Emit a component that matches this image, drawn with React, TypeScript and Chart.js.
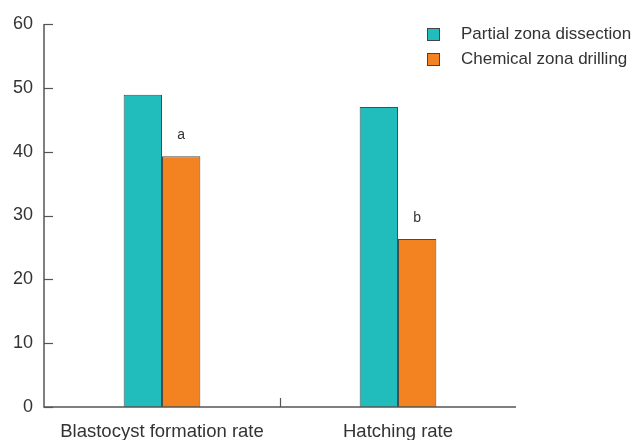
import React, { useEffect, useRef } from "react";
import { Chart, registerables } from "chart.js";

Chart.register(...registerables);

const categories = ["Blastocyst formation rate", "Hatching rate"];
const seriesNames = ["Partial zona dissection", "Chemical zona drilling"];
const partialValues = [48.9, 47.0];
const chemicalValues = [39.3, 26.3];
const chemicalMarks = ["a", "b"];
const yTicks = [0, 10, 20, 30, 40, 50, 60];

const TEAL = "#21bdbc";
const ORANGE = "#f38321";
const AXIS = "#555555";
const FONT = "'Liberation Sans', Arial, sans-serif";

const decorPlugin = {
  id: "decor",
  afterDraw(chart: any) {
    const ctx = chart.ctx;
    const x = chart.scales.x;
    const y = chart.scales.y;
    const area = chart.chartArea;
    ctx.save();
    // axes
    ctx.strokeStyle = AXIS;
    ctx.lineWidth = 1.5;
    ctx.beginPath();
    ctx.moveTo(area.left, area.top);
    ctx.lineTo(area.left, area.bottom);
    ctx.lineTo(area.right, area.bottom);
    ctx.stroke();
    // inward y ticks
    ctx.lineWidth = 1.2;
    yTicks.forEach((v) => {
      const py = Math.round(y.getPixelForValue(v)) + 0.5;
      ctx.beginPath();
      ctx.moveTo(area.left, py);
      ctx.lineTo(area.left + 9, py);
      ctx.stroke();
    });
    // x tick between categories
    const mid = (x.getPixelForValue(0) + x.getPixelForValue(1)) / 2;
    ctx.beginPath();
    ctx.moveTo(Math.round(mid) + 0.5, area.bottom);
    ctx.lineTo(Math.round(mid) + 0.5, area.bottom - 9);
    ctx.stroke();
    // significance letters
    const meta = chart.getDatasetMeta(1);
    ctx.fillStyle = "#333333";
    ctx.font = `14px ${FONT}`;
    ctx.textAlign = "center";
    ctx.textBaseline = "bottom";
    meta.data.forEach((bar: any, i: number) => {
      ctx.fillText(chemicalMarks[i], bar.x, bar.y - 14);
    });
    // legend
    const colors = [TEAL, ORANGE];
    ctx.font = `17px ${FONT}`;
    ctx.textAlign = "left";
    ctx.textBaseline = "middle";
    seriesNames.forEach((name, i) => {
      const ly = 34 + i * 25;
      ctx.fillStyle = colors[i];
      ctx.fillRect(427, ly - 6, 13, 13);
      ctx.strokeStyle = "#444444";
      ctx.lineWidth = 1;
      ctx.strokeRect(427.5, ly - 5.5, 12, 12);
      ctx.fillStyle = "#333333";
      ctx.fillText(name, 461, ly);
    });
    ctx.restore();
  },
};

export default function App() {
  const ref = useRef<HTMLCanvasElement>(null);
  useEffect(() => {
    document.body.style.margin = "0";
    const chart = new Chart(ref.current!, {
      type: "bar",
      data: {
        labels: categories,
        datasets: [
          {
            label: seriesNames[0],
            data: partialValues,
            backgroundColor: TEAL,
            borderColor: "#4a4a4a",
            borderWidth: 1,
          },
          {
            label: seriesNames[1],
            data: chemicalValues,
            backgroundColor: ORANGE,
            borderColor: "#4a4a4a",
            borderWidth: 1,
          },
        ],
      },
      options: {
        animation: false,
        responsive: false,
        maintainAspectRatio: false,
        layout: { padding: { top: 24, right: 117, left: 0, bottom: 0 } },
        datasets: { bar: { categoryPercentage: 0.325, barPercentage: 1 } },
        plugins: { legend: { display: false }, tooltip: { enabled: false } },
        scales: {
          x: {
            grid: { display: false, drawTicks: false },
            border: { display: false },
            ticks: { color: "#333333", font: { family: FONT, size: 18.5 }, padding: 14 },
            afterFit: (s: any) => {
              s.height = 33;
            },
          },
          y: {
            min: 0,
            max: 60,
            grid: { display: false, drawTicks: false },
            border: { display: false },
            ticks: {
              stepSize: 10,
              color: "#333333",
              font: { family: FONT, size: 18 },
              padding: 11,
            },
            afterFit: (s: any) => {
              s.width = 44;
            },
          },
        },
      },
      plugins: [decorPlugin],
    });
    return () => chart.destroy();
  }, []);
  return (
    <div style={{ width: 633, height: 440 }}>
      <canvas ref={ref} width={633} height={440} />
    </div>
  );
}
